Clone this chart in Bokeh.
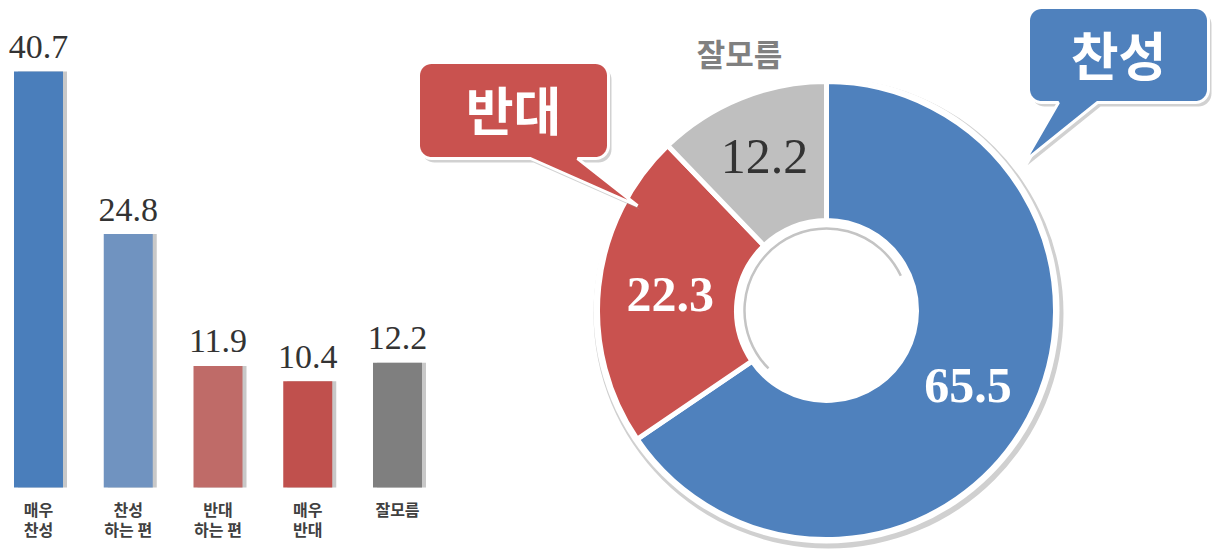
import numpy as np
from bokeh.plotting import figure
from bokeh.models import Range1d
from bokeh.core.properties import value
from bokeh.embed import file_html
from bokeh.resources import INLINE

# ---------------- data ----------------
bar_line1 = ["매우", "찬성", "반대", "매우", "잘모름"]
bar_line2 = ["찬성", "하는 편", "하는 편", "반대", ""]
bar_values = [40.7, 24.8, 11.9, 10.4, 12.2]
bar_colors = ["#4a7ebb", "#7093c0", "#bf6b68", "#c0504d", "#7f7f7f"]

donut_labels = ["찬성", "반대", "잘모름"]
donut_values = [65.5, 22.3, 12.2]
donut_colors = ["#4f81bd", "#c9524f", "#bfbfbf"]
donut_text_colors = ["white", "white", "#333333"]
donut_text_styles = ["bold", "bold", "normal"]

# ---------------- figure ----------------
W, H = 1215, 551
CX, CY = 826, 310          # donut centre in page pixels
p = figure(width=W, height=H, output_backend="svg", toolbar_location=None,
           x_range=Range1d(-CX, W - CX), y_range=Range1d(-(H - CY), CY),
           min_border=0, x_axis_location=None, y_axis_location=None)
p.grid.visible = False
p.outline_line_color = None
p.background_fill_color = "white"
p.border_fill_color = "white"

# bar chart scales (extra ranges)
step_px, first_px = 89.75, 38.0
unit_px, base_px = 10.22, 487.0
p.extra_x_ranges = {"bx": Range1d(-first_px / step_px, (W - first_px) / step_px)}
p.extra_y_ranges = {"by": Range1d(-(H - base_px) / unit_px, base_px / unit_px)}

xs = np.arange(len(bar_values))
bw = 0.546
p.vbar(x=xs + 4.0 / step_px, top=bar_values, bottom=0, width=bw,
       fill_color="#c8c8c8", line_color=None, x_range_name="bx", y_range_name="by")
p.vbar(x=xs, top=bar_values, bottom=0, width=bw, fill_color=bar_colors,
       line_color=None, x_range_name="bx", y_range_name="by")
gap = 24.5 / unit_px
p.text(x=xs, y=[v + gap for v in bar_values], text=[f"{v:.1f}" for v in bar_values],
       text_align="center", text_baseline="middle",
       text_font=value("Liberation Serif"), text_font_size="34px",
       text_color="#333333", x_range_name="bx", y_range_name="by")
for line, off in ((bar_line1, 21), (bar_line2, 41)):
    p.text(x=xs, y=[-off / unit_px] * len(xs), text=line, text_align="center",
           text_baseline="middle",
           text_font=value("Noto Sans CJK KR"), text_font_style="bold",
           text_font_size="16px", text_color="#404040",
           x_range_name="bx", y_range_name="by")

# ---------------- donut ----------------
vals = np.array(donut_values)
frac = vals / vals.sum()
cum = np.concatenate([[0], np.cumsum(frac)])
start = np.pi / 2 - 2 * np.pi * cum[:-1]
end = np.pi / 2 - 2 * np.pi * cum[1:]
mid = (start + end) / 2

R_OUT, R_IN = 229, 90
p.circle(x=[2], y=[-3], radius=R_OUT + 6, fill_color="#d0d0d0", line_color=None)
p.circle(x=[0], y=[0], radius=R_OUT + 4, fill_color="white", line_color=None)
p.annular_wedge(x=0, y=0, inner_radius=R_IN, outer_radius=R_OUT,
                start_angle=start, end_angle=end, direction="clock",
                fill_color=donut_colors, line_color="white", line_width=5)
p.circle(x=[0], y=[0], radius=R_IN - 3, fill_color="white", line_color=None)
p.arc(x=0, y=0, radius=R_IN - 8, start_angle=np.radians(25), end_angle=np.radians(225),
      line_color="#c4c4c4", line_width=2.5)

lab_r = [160, 157, 166]
for i in range(len(donut_values)):
    p.text(x=[lab_r[i] * np.cos(mid[i])], y=[lab_r[i] * np.sin(mid[i])],
           text=[f"{donut_values[i]:.1f}"], text_align="center",
           text_baseline="middle", text_font=value("Liberation Serif"),
           text_font_style=donut_text_styles[i], text_font_size="50px",
           text_color=donut_text_colors[i])

p.text(x=[-87], y=[258], text=[donut_labels[2]], text_align="center",
       text_baseline="middle", text_font=value("Noto Sans CJK KR"),
       text_font_style="bold", text_font_size="31px", text_color="#808080")


# ---------------- callouts ----------------
def callout(x0, x1, y0, y1, r, ta, tb, tip):
    xs_, ys_ = [], []
    def arc(cx, cy, a0, a1):
        t = np.linspace(np.radians(a0), np.radians(a1), 10)
        xs_.extend(cx + r * np.cos(t)); ys_.extend(cy + r * np.sin(t))
    arc(x0 + r, y0 + r, 180, 270)
    xs_.extend([ta, tip[0], tb]); ys_.extend([y0, tip[1], y0])
    arc(x1 - r, y0 + r, 270, 360)
    arc(x1 - r, y1 - r, 0, 90)
    arc(x0 + r, y1 - r, 90, 180)
    return np.array(xs_), np.array(ys_)

def tip_at(angle_deg, radius):
    a = np.radians(angle_deg)
    return (radius * np.cos(a), radius * np.sin(a))

specs = [
    ((418, 608, 62, 158), (530, 577), tip_at(151, 216), donut_colors[1], donut_labels[1]),
    ((1028, 1208, 7, 102), (1058, 1097), tip_at(37, 248), donut_colors[0], donut_labels[0]),
]
for (bx0, bx1, by0, by1), (t0, t1), tip, col, txt in specs:
    x0, x1 = bx0 - CX, bx1 - CX
    y0, y1 = CY - by1, CY - by0
    cxs, cys = callout(x0, x1, y0, y1, 13, t0 - CX, t1 - CX, tip)
    p.patch(cxs + 3, cys - 4, fill_color="#9a9a9a", fill_alpha=0.45, line_color=None)
    p.patch(cxs, cys, fill_color=col, line_color="white", line_width=3)
    p.text(x=[(x0 + x1) / 2], y=[(y0 + y1) / 2 + 2], text=[txt], text_align="center",
           text_baseline="middle", text_font=value("Noto Sans CJK KR"),
           text_font_style="bold", text_font_size="52px", text_color="white")

open("out.html", "w").write(file_html(p, INLINE))
